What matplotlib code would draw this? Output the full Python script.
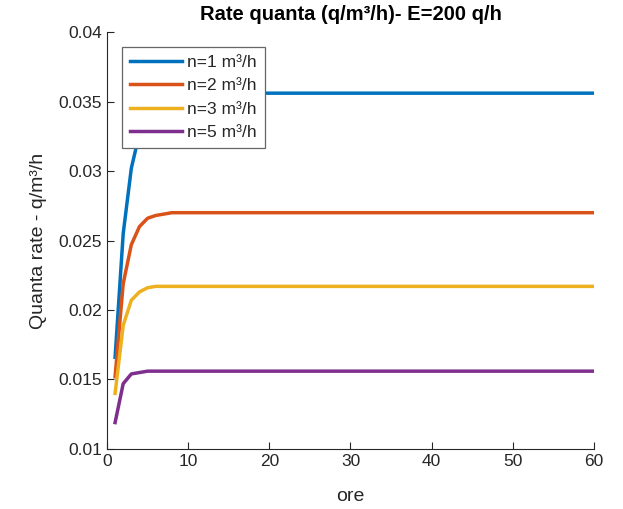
import matplotlib.pyplot as plt
from matplotlib.ticker import FormatStrFormatter
import numpy as np

# hours 1..60, quanta rate per flow rate n
ore = np.arange(1, 61)
labels = ["n=1 m³/h", "n=2 m³/h", "n=3 m³/h", "n=5 m³/h"]
colors = ["#0072BD", "#D95319", "#EDB120", "#7E2F8E"]

rate_n1 = [0.0166, 0.0255, 0.0302, 0.0327, 0.0341, 0.0348, 0.0352, 0.0354,
           0.0355] + [0.0356] * 51
rate_n2 = [0.0152, 0.0219, 0.0247, 0.0260, 0.0266, 0.0268, 0.0269] + [0.0270] * 53
rate_n3 = [0.0140, 0.0189, 0.0207, 0.0213, 0.0216] + [0.0217] * 55
rate_n5 = [0.0119, 0.0147, 0.0154, 0.0155] + [0.0156] * 56
series = [rate_n1, rate_n2, rate_n3, rate_n5]

plt.rcParams['font.family'] = ['Liberation Sans', 'DejaVu Sans']
dark = "#262626"

fig = plt.figure(figsize=(6.23, 5.09), dpi=100)
ax = fig.add_axes([0.1717, 0.1179, 0.7818, 0.8192])

for y, lab, c in zip(series, labels, colors):
    ax.plot(ore, y, color=c, lw=2.5, label=lab)

ax.set_xlim(0, 60)
ax.set_ylim(0.01, 0.04)
ax.set_xticks(np.arange(0, 61, 10))
ax.set_yticks([0.01, 0.015, 0.02, 0.025, 0.03, 0.035, 0.04])
ax.yaxis.set_major_formatter(FormatStrFormatter('%g'))

for s in ['top', 'right']:
    ax.spines[s].set_visible(False)
for s in ['left', 'bottom']:
    ax.spines[s].set_color(dark)
    ax.spines[s].set_linewidth(0.8)
ax.tick_params(direction='in', length=5, width=0.8, colors=dark, labelsize=12.5)

ax.set_title("Rate quanta (q/m³/h)- E=200 q/h", fontsize=14.5, fontweight='bold',
             color='black', pad=9)
ax.set_xlabel("ore", fontsize=14, color=dark, labelpad=14)
ax.set_ylabel("Quanta rate - q/m³/h", fontsize=14, color=dark, labelpad=8)

leg = ax.legend(loc='upper left', bbox_to_anchor=(122 / 623, 1 - 47 / 509),
                bbox_transform=fig.transFigure, fontsize=12.5, frameon=True,
                fancybox=False, framealpha=1, handlelength=3.0,
                handletextpad=0.3, labelspacing=0.47, borderpad=0.45,
                borderaxespad=0)
leg.get_frame().set_edgecolor("#666666")
leg.get_frame().set_linewidth(0.9)
for t in leg.get_texts():
    t.set_color(dark)

fig.savefig("out.png", dpi=100)
